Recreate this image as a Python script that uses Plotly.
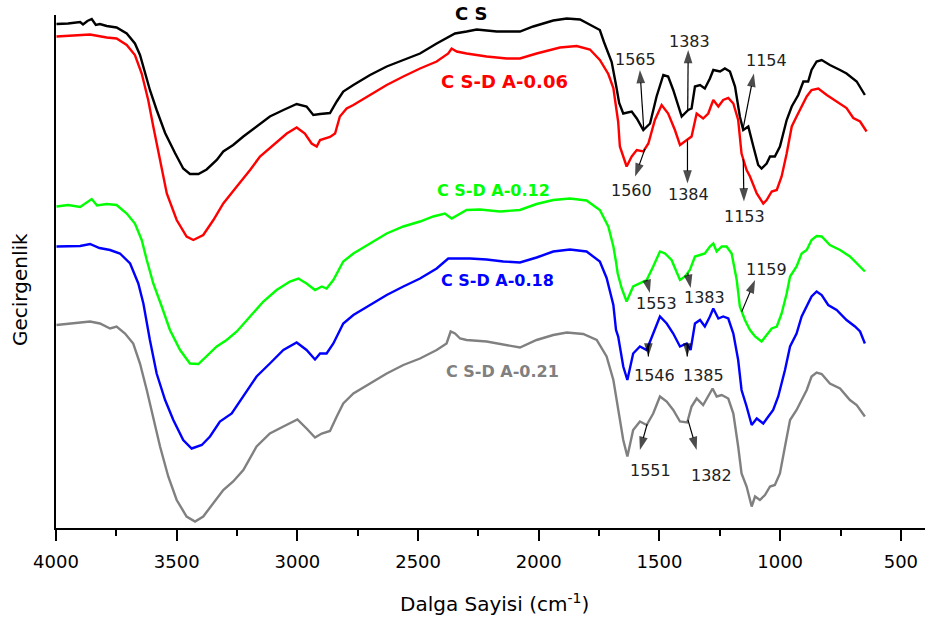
import numpy as np
import plotly.graph_objects as go

# FTIR spectra: wavenumber (cm-1) and transmittance (arbitrary units, curves offset)
cs_wn = [3998, 3950, 3900, 3888, 3870, 3852, 3835, 3818, 3790, 3749, 3707, 3673, 3652, 3631, 3611, 3583,
         3548, 3507, 3473, 3445, 3410, 3376, 3334, 3307, 3266, 3224, 3169, 3114, 3058, 3003, 2962, 2934,
         2906, 2865, 2837, 2810, 2768, 2699, 2630, 2561, 2492, 2423, 2361, 2347, 2299, 2257, 2174, 2078,
         2023, 1940, 1884, 1829, 1774, 1747, 1730, 1698, 1680, 1667, 1650, 1615, 1594, 1567, 1539, 1512,
         1484, 1464, 1443, 1408, 1381, 1367, 1353, 1332, 1312, 1291, 1277, 1249, 1229, 1208, 1187, 1167,
         1153, 1132, 1111, 1091, 1077, 1056, 1042, 1022, 1001, 973, 952, 925, 904, 884, 870, 849, 828,
         794, 752, 725, 683, 649]
cs_t = [100.8, 100.9, 101.2, 100.7, 101.4, 101.8, 100.6, 100.8, 100.4, 100.1, 98.9, 96.9, 94.6, 91.0,
        87.6, 83.6, 79.0, 75.0, 71.9, 70.8, 70.8, 71.7, 73.6, 75.3, 76.6, 78.3, 80.3, 82.3, 83.6, 84.8,
        84.3, 82.6, 82.8, 83.0, 85.3, 87.3, 88.6, 90.6, 92.3, 93.6, 94.9, 96.9, 98.6, 98.9, 99.3, 99.7,
        99.3, 99.3, 100.3, 101.5, 101.9, 101.7, 100.3, 99.6, 97.2, 93.2, 88.6, 85.0, 82.9, 83.3, 81.9,
        79.6, 80.9, 86.3, 90.6, 90.3, 87.6, 82.3, 83.6, 83.9, 88.3, 88.6, 87.9, 89.9, 91.6, 91.3, 91.9,
        91.3, 88.3, 82.3, 79.6, 80.3, 76.3, 72.6, 71.9, 72.9, 74.3, 74.3, 76.3, 81.6, 84.3, 86.6, 89.3,
        89.3, 91.6, 93.3, 93.6, 92.6, 91.6, 90.9, 89.3, 86.6]

da006_wn = [3998, 3859, 3790, 3749, 3707, 3673, 3645, 3618, 3597, 3569, 3541, 3500, 3459, 3431, 3390,
            3348, 3307, 3251, 3196, 3155, 3100, 3044, 3003, 2969, 2941, 2920, 2906, 2865, 2844, 2824,
            2796, 2768, 2699, 2630, 2561, 2492, 2423, 2375, 2361, 2340, 2299, 2216, 2133, 2078, 2009,
            1912, 1843, 1788, 1747, 1712, 1691, 1677, 1671, 1664, 1657, 1636, 1615, 1594, 1567, 1546,
            1519, 1491, 1464, 1436, 1415, 1387, 1367, 1346, 1319, 1298, 1277, 1256, 1236, 1215, 1194,
            1174, 1160, 1139, 1125, 1097, 1070, 1056, 1035, 1014, 994, 973, 952, 932, 911, 890, 870,
            842, 807, 766, 725, 697, 669, 642]
da006_t = [98.3, 98.7, 98.1, 97.9, 96.6, 94.6, 90.9, 85.6, 80.3, 73.6, 66.9, 61.6, 58.3, 57.6, 58.6,
           61.6, 64.9, 68.3, 71.6, 74.3, 76.6, 78.9, 80.1, 78.9, 76.9, 76.3, 77.6, 78.2, 78.9, 82.3,
           83.9, 84.6, 86.6, 88.6, 90.3, 91.9, 93.3, 94.9, 95.9, 95.3, 94.9, 94.3, 93.9, 93.9, 94.9,
           96.1, 96.4, 95.7, 93.6, 90.8, 88.0, 83.6, 81.2, 76.3, 75.3, 72.3, 74.3, 75.6, 75.3, 76.9,
           81.6, 84.6, 82.9, 79.6, 76.6, 77.6, 78.3, 82.9, 81.9, 82.9, 85.6, 84.3, 85.6, 86.0, 84.9,
           81.6, 74.9, 71.6, 70.3, 66.9, 64.9, 65.6, 67.3, 67.6, 70.3, 74.9, 80.3, 82.3, 84.3, 86.3,
           87.6, 87.9, 86.6, 85.3, 84.0, 82.0, 81.3, 79.3]

da012_wn = [3998, 3950, 3900, 3870, 3852, 3830, 3790, 3749, 3707, 3673, 3645, 3624, 3597, 3562, 3528,
            3486, 3445, 3410, 3376, 3334, 3293, 3251, 3196, 3141, 3086, 3031, 2996, 2962, 2927, 2899,
            2879, 2851, 2810, 2768, 2699, 2630, 2561, 2492, 2437, 2389, 2361, 2326, 2299, 2244, 2161,
            2078, 2009, 1940, 1871, 1802, 1747, 1712, 1691, 1680, 1673, 1657, 1636, 1609, 1581, 1553,
            1526, 1498, 1477, 1450, 1415, 1394, 1374, 1353, 1332, 1312, 1291, 1277, 1263, 1242, 1222,
            1201, 1180, 1167, 1146, 1125, 1104, 1077, 1056, 1035, 1014, 994, 973, 959, 932, 911, 890,
            870, 849, 828, 794, 752, 711, 683, 649]
da012_t = [64.3, 64.6, 64.2, 65.3, 65.8, 64.5, 64.8, 64.6, 62.9, 60.9, 57.6, 53.6, 48.9, 44.3, 39.6,
           35.6, 32.9, 32.8, 34.3, 36.3, 37.6, 39.3, 42.3, 45.3, 47.6, 49.3, 49.9, 48.9, 47.6, 48.3,
           47.9, 49.6, 53.3, 54.9, 56.9, 58.9, 60.3, 61.3, 62.3, 62.9, 61.9, 62.9, 63.6, 63.7, 63.3,
           63.6, 64.8, 65.6, 65.9, 65.5, 63.6, 60.3, 56.3, 53.2, 50.9, 48.0, 45.3, 48.3, 48.9, 49.6,
           52.3, 55.3, 54.9, 53.6, 49.6, 50.3, 51.6, 54.3, 54.6, 54.9, 56.3, 56.9, 55.3, 56.3, 56.3,
           54.9, 49.6, 44.3, 41.6, 39.6, 38.3, 37.3, 38.6, 39.9, 40.3, 42.9, 46.9, 50.3, 52.3, 54.9,
           55.6, 57.6, 58.4, 58.3, 56.6, 55.6, 54.3, 52.9, 51.3]

da018_wn = [3998, 3900, 3859, 3820, 3776, 3735, 3693, 3659, 3638, 3611, 3583, 3548, 3514, 3473, 3438,
            3396, 3362, 3321, 3272, 3224, 3169, 3114, 3058, 3003, 2962, 2927, 2906, 2879, 2851, 2810,
            2768, 2699, 2630, 2561, 2492, 2423, 2375, 2340, 2285, 2216, 2147, 2078, 2009, 1940, 1871,
            1802, 1747, 1719, 1691, 1680, 1671, 1650, 1633, 1609, 1581, 1553, 1526, 1498, 1470, 1443,
            1415, 1387, 1371, 1353, 1332, 1312, 1291, 1277, 1256, 1236, 1215, 1194, 1174, 1160, 1139,
            1118, 1097, 1070, 1049, 1029, 1008, 980, 959, 932, 911, 890, 870, 849, 828, 801, 766, 725,
            690, 669, 649]
da018_t = [56.3, 56.4, 56.8, 56.0, 55.6, 54.9, 52.9, 48.9, 44.9, 37.6, 30.9, 25.6, 21.6, 17.6, 15.9,
           16.6, 18.3, 21.3, 22.9, 26.3, 30.3, 32.9, 35.6, 37.1, 35.6, 33.7, 34.9, 34.9, 36.9, 40.9,
           42.6, 44.6, 46.6, 48.3, 49.9, 51.9, 53.9, 53.9, 53.9, 53.7, 53.3, 53.1, 54.1, 55.3, 55.7,
           55.3, 53.3, 50.0, 44.6, 39.6, 38.3, 32.3, 29.6, 34.9, 36.3, 35.6, 38.9, 42.3, 40.9, 38.9,
           36.3, 36.9, 35.6, 40.9, 41.6, 40.3, 42.3, 43.9, 41.9, 42.3, 41.9, 38.9, 33.6, 27.6, 24.3,
           20.6, 21.9, 20.9, 22.3, 23.6, 26.3, 31.6, 36.3, 38.9, 42.3, 44.3, 46.3, 47.3, 46.6, 44.6,
           43.6, 41.6, 40.3, 39.3, 36.9]

da021_wn = [3998, 3900, 3859, 3818, 3776, 3749, 3714, 3680, 3652, 3624, 3597, 3569, 3535, 3500, 3459,
            3424, 3390, 3348, 3307, 3266, 3224, 3169, 3114, 3058, 3000, 2962, 2927, 2899, 2865, 2837,
            2810, 2768, 2699, 2630, 2561, 2492, 2423, 2382, 2365, 2347, 2326, 2299, 2216, 2133, 2078,
            2009, 1940, 1884, 1816, 1760, 1719, 1691, 1671, 1650, 1633, 1609, 1581, 1553, 1526,
            1498, 1470, 1443, 1415, 1385, 1367, 1346, 1319, 1298, 1280, 1263, 1242, 1215, 1194, 1174,
            1160, 1139, 1118, 1104, 1084, 1063, 1042, 1022, 1001, 980, 959, 932, 911, 890, 870, 849,
            828, 794, 752, 711, 683, 649]
da021_t = [40.6, 41.0, 41.3, 40.9, 39.9, 40.3, 38.9, 36.9, 32.9, 27.6, 22.3, 16.3, 10.3, 5.6, 2.3,
           1.3, 2.3, 4.9, 7.6, 9.3, 11.6, 16.3, 18.9, 20.3, 21.7, 19.9, 18.1, 18.9, 19.4, 22.3,
           24.9, 26.9, 28.9, 30.9, 32.6, 33.9, 35.6, 36.9, 39.3, 38.9, 37.9, 37.6, 37.3, 36.6, 36.1,
           37.6, 38.6, 39.1, 38.8, 37.6, 34.3, 29.6, 23.6, 17.6, 14.3, 19.6, 21.3, 20.6, 22.9,
           26.3, 25.3, 23.6, 21.3, 21.1, 24.3, 25.9, 24.6, 26.3, 27.9, 26.3, 26.6, 25.9, 22.9, 16.3,
           10.9, 8.3, 4.3, 6.3, 5.6, 6.6, 8.3, 8.6, 10.9, 16.3, 21.6, 23.6, 25.6, 27.6, 30.3, 31.1,
           30.8, 28.9, 27.9, 25.6, 24.6, 22.3]

series_names = ["C S", "C S-D A-0.06", "C S-D A-0.12", "C S-D A-0.18", "C S-D A-0.21"]
series_wn = [cs_wn, da006_wn, da012_wn, da018_wn, da021_wn]
series_t = [cs_t, da006_t, da012_t, da018_t, da021_t]
series_colors = ["#000000", "#FF0000", "#00FF00", "#0000FF", "#808080"]

# sample name labels: (wavenumber, transmittance) of the text centre, font size
name_pos = [(2281, 102.8, 18), (2140, 89.2, 18), (2186, 67.6, 16), (2171, 49.6, 16), (2150, 31.3, 16)]

# band assignments: label, series index, arrow head (wn, T), label centre (wn, T)
bands = [
    ("1565", 0, (1581, 91.6), (1601, 93.7)),
    ("1383", 0, (1381, 95.6), (1374, 97.3)),
    ("1154", 0, (1109, 90.9), (1056, 93.5)),
    ("1560", 1, (1601, 70.3), (1615, 67.6)),
    ("1384", 1, (1384, 68.9), (1380, 66.8)),
    ("1153", 1, (1150, 65.3), (1146, 62.3)),
    ("1553", 2, (1540, 47.0), (1512, 44.9)),
    ("1383", 2, (1371, 48.0), (1312, 46.1)),
    ("1159", 2, (1104, 49.6), (1056, 51.7)),
    ("1546", 3, (1546, 34.3), (1519, 30.6)),
    ("1385", 3, (1385, 34.3), (1319, 30.6)),
    ("1551", 4, (1581, 15.6), (1539, 11.6)),
    ("1382", 4, (1346, 15.6), (1284, 10.6)),
]

FONT = "DejaVu Sans"
Y_TOP = 102.6


def value_at(wn, t, w):
    wn = np.asarray(wn, dtype=float)
    t = np.asarray(t, dtype=float)
    order = np.argsort(wn)
    return float(np.interp(w, wn[order], t[order]))


fig = go.Figure()
for name, wn, t, color in zip(series_names, series_wn, series_t, series_colors):
    fig.add_trace(go.Scatter(x=wn, y=t, mode="lines", name=name,
                             line=dict(color=color, width=2.4), showlegend=False))

# sample names (paper y so the top label may sit above the axis range)
for name, color, (lx, ly, fs) in zip(series_names, series_colors, name_pos):
    fig.add_annotation(x=lx, y=ly / Y_TOP, xref="x", yref="paper", text=f"<b>{name}</b>",
                       xanchor="center", yanchor="middle", showarrow=False,
                       font=dict(family=FONT, size=fs, color=color))

# band arrows: from the spectrum at the labelled wavenumber towards the label
for text, idx, (hx, hy), (lx, ly) in bands:
    band = float(text)
    tail_t = value_at(series_wn[idx], series_t[idx], band)
    fig.add_trace(go.Scatter(
        x=[band, hx], y=[tail_t, hy], mode="lines+markers", showlegend=False, hoverinfo="skip",
        line=dict(color="black", width=1.2),
        marker=dict(symbol="arrow", size=[0, 14], angleref="previous", color="black",
                    line=dict(width=0)),
        cliponaxis=False))
    fig.add_annotation(x=lx, y=ly, xref="x", yref="y", text=text, showarrow=False,
                       xanchor="center", yanchor="middle",
                       font=dict(family=FONT, size=16, color="#222222"))

fig.add_annotation(x=0.505, y=-0.146, xref="paper", yref="paper", text="Dalga Sayisi (cm<sup>-1</sup>)",
                   showarrow=False, xanchor="center", yanchor="middle",
                   font=dict(family=FONT, size=20, color="#000000"))
fig.add_annotation(x=-0.0414, y=0.464, xref="paper", yref="paper", text="Gecirgenlik", textangle=-90,
                   showarrow=False, xanchor="center", yanchor="middle",
                   font=dict(family=FONT, size=20, color="#000000"))

fig.update_layout(
    width=928, height=628,
    margin=dict(l=56, r=3, t=15, b=100),
    plot_bgcolor="white", paper_bgcolor="white",
    xaxis=dict(range=[4000, 400], autorange=False, showline=True, linecolor="black", linewidth=2,
               ticks="outside", ticklen=11, tickwidth=2, tickcolor="black", tick0=0, dtick=500,
               ticklabelstandoff=5,
               showgrid=False, zeroline=False, tickfont=dict(family=FONT, size=18, color="black"),
               minor=dict(dtick=250, ticks="outside", ticklen=6, tickwidth=2, tickcolor="black",
                          showgrid=False)),
    yaxis=dict(range=[0, Y_TOP], autorange=False, showline=True, linecolor="black", linewidth=2,
               showticklabels=False, ticks="", showgrid=False, zeroline=False),
)

fig.write_html("out.html")
